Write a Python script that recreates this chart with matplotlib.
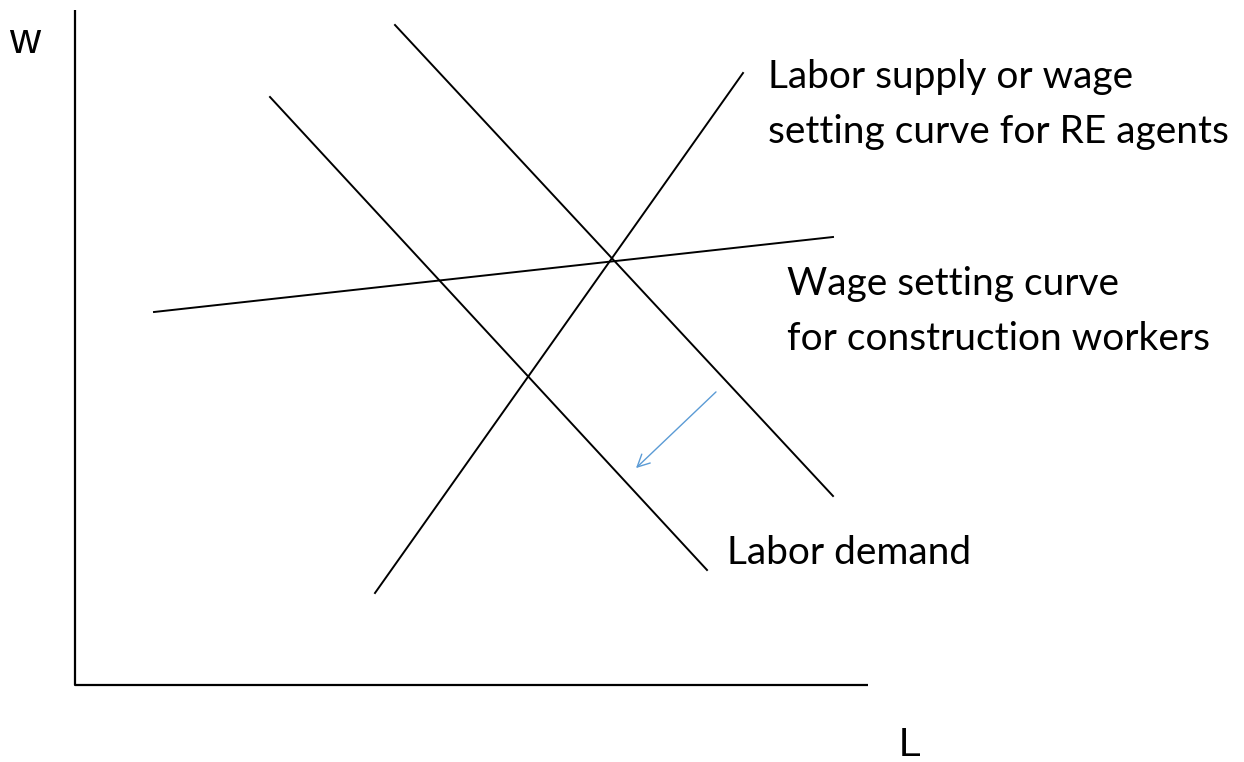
import matplotlib.pyplot as plt

# Diagram geometry (in picture units, y grows downward)
axis_x = [75, 75, 868]
axis_y = [10, 685, 685]

demand_old_x = [395, 833]
demand_old_y = [25, 496]
demand_new_x = [270, 707]
demand_new_y = [97, 570]
supply_x = [375, 743]
supply_y = [593, 73]
wage_set_x = [154, 833]
wage_set_y = [312, 237]

shift_from = (718, 390)
shift_to = (634, 470)

label_lines = ['Labor supply or wage', 'setting curve for RE agents',
               'Wage setting curve', 'for construction workers',
               'Labor demand']
label_x = [768, 768, 787, 787, 727]
label_y = [88, 143, 295, 350, 564]

fig = plt.figure(figsize=(12.44, 7.62), dpi=100)
ax = fig.add_axes([0, 0, 1, 1])
ax.set_xlim(0, 1244)
ax.set_ylim(762, 0)
ax.axis('off')

ax.plot(axis_x, axis_y, color='black', lw=1.6, solid_capstyle='butt')
for xs, ys in [(demand_old_x, demand_old_y), (demand_new_x, demand_new_y),
               (supply_x, supply_y), (wage_set_x, wage_set_y)]:
    ax.plot(xs, ys, color='black', lw=1.4)

ax.annotate('', xy=shift_to, xytext=shift_from,
            arrowprops=dict(arrowstyle='->', color='#5B9BD5', lw=1.0,
                            mutation_scale=22))

for txt, x, y in zip(label_lines, label_x, label_y):
    ax.text(x, y, txt, fontsize=28, family='Lato', ha='left', va='baseline')

ax.text(9, 53, 'w', fontsize=31, family='Liberation Sans', va='baseline')
ax.text(899, 756, 'L', fontsize=29, family='Liberation Sans', va='baseline')

fig.savefig('out.png', dpi=100)
